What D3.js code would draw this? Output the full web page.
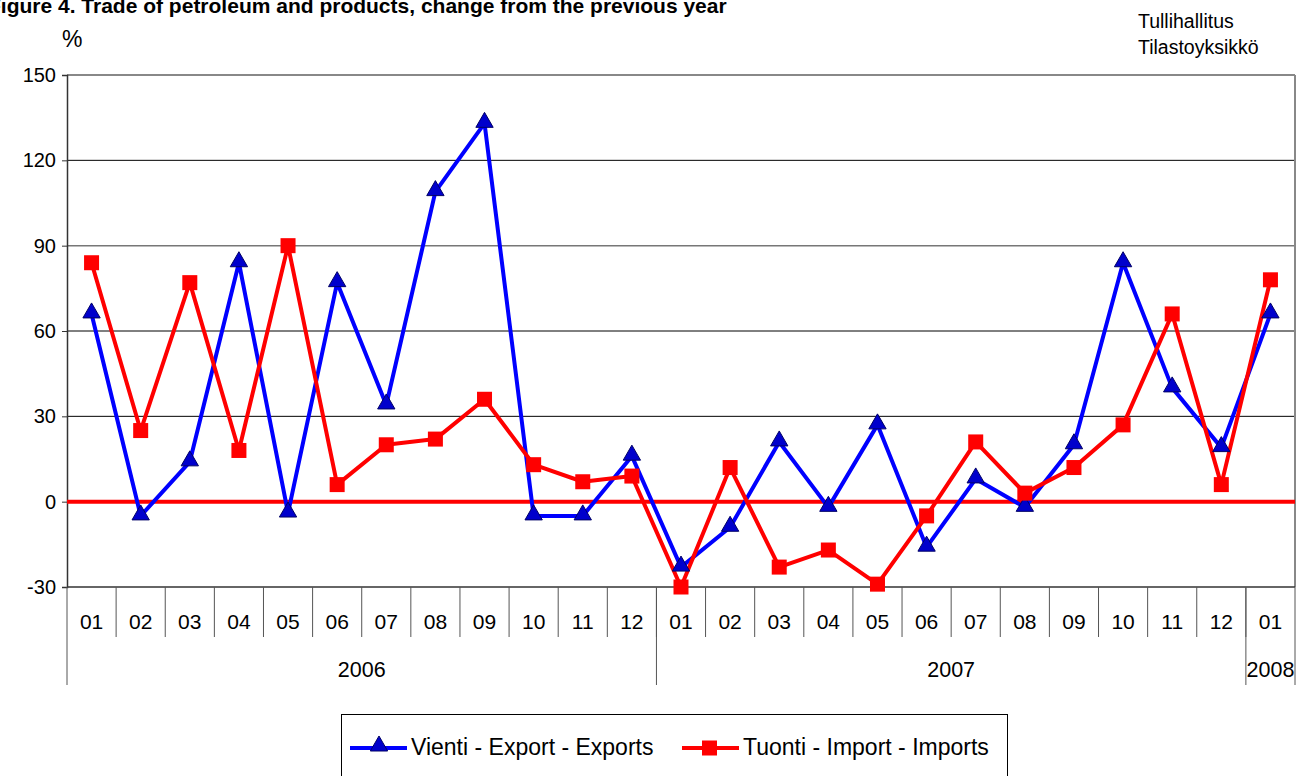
<!DOCTYPE html>
<html>
<head>
<meta charset="utf-8">
<script src="https://cdn.jsdelivr.net/npm/d3@7"></script>
<style>
  body { margin: 0; background: #fff; }
  svg { display: block; font-family: "Liberation Sans", Arial, sans-serif; }
</style>
</head>
<body>
<div id="chart"></div>
<script>
// Datos
const months = ["01","02","03","04","05","06","07","08","09","10","11","12",
                "01","02","03","04","05","06","07","08","09","10","11","12","01"];
const years = [
  { label: "2006", start: 0, end: 12 },
  { label: "2007", start: 12, end: 24 },
  { label: "2008", start: 24, end: 25 }
];
const exportsValues = [66, -5, 14, 84, -4, 77, 34, 109, 133, -5, -5, 16,
                       -23, -9, 21, -2, 27, -16, 8, -2, 20, 84, 40, 19, 66];
const importsValues = [84, 25, 77, 18, 90, 6, 20, 22, 36, 13, 7, 9,
                       -30, 12, -23, -17, -29, -5, 21, 3, 12, 27, 66, 6, 78];
const yTicks = [-30, 0, 30, 60, 90, 120, 150];
const seriesNames = ["Vienti - Export - Exports", "Tuonti - Import - Imports"];

const width = 1297, height = 776;
const plotLeft = 67, plotRight = 1295, plotTop = 75, plotBottom = 587;

const svg = d3.select("#chart").append("svg")
  .attr("width", width).attr("height", height);

// Escalas
const x = d3.scaleBand().domain(d3.range(months.length)).range([plotLeft, plotRight]);
const y = d3.scaleLinear().domain([-30, 150]).range([plotBottom, plotTop]);
const cx = i => x(i) + x.bandwidth() / 2;
const edge = i => i >= months.length ? plotRight : x(i);

// Título (cortado a la izquierda como en el original)
svg.append("text")
  .attr("x", -12).attr("y", 13)
  .attr("font-size", 21).attr("font-weight", "bold")
  .text("Figure 4. Trade of petroleum and products, change from the previous year");

svg.append("text").attr("x", 62).attr("y", 47).attr("font-size", 23).text("%");

svg.append("text").attr("x", 1138).attr("y", 28).attr("font-size", 19.5).text("Tullihallitus");
svg.append("text").attr("x", 1138).attr("y", 54).attr("font-size", 19.5).text("Tilastoyksikkö");

// Líneas de cuadrícula
svg.append("g")
  .selectAll("line")
  .data(yTicks.filter(d => d > -30 && d < 150))
  .join("line")
  .attr("x1", plotLeft).attr("x2", plotRight)
  .attr("y1", d => y(d)).attr("y2", d => y(d))
  .attr("stroke", d => d === 90 ? "#777" : "#000")
  .attr("stroke-width", d => d === 90 ? 1.5 : 1);

// Borde del área
svg.append("line").attr("x1", plotLeft).attr("x2", plotRight).attr("y1", plotTop).attr("y2", plotTop)
  .attr("stroke", "#888").attr("stroke-width", 2);
svg.append("line").attr("x1", plotRight).attr("x2", plotRight).attr("y1", plotTop).attr("y2", plotBottom)
  .attr("stroke", "#888").attr("stroke-width", 2);

// Eje Y
const yAxis = svg.append("g")
  .attr("transform", `translate(${plotLeft},0)`)
  .call(d3.axisLeft(y).tickValues(yTicks).tickSize(5).tickPadding(6).tickFormat(d => String(d)));
yAxis.select(".domain").attr("stroke", "#333").attr("stroke-width", 1.5);
yAxis.selectAll(".tick line").attr("stroke", "#333");
yAxis.selectAll("text").attr("font-size", 20).attr("fill", "#000")
  .attr("font-family", "Liberation Sans, Arial, sans-serif");

// Eje X de categorías
const xg = svg.append("g");
xg.append("line").attr("x1", plotLeft).attr("x2", plotRight).attr("y1", plotBottom).attr("y2", plotBottom)
  .attr("stroke", "#333").attr("stroke-width", 1.5);
xg.selectAll(".mtick")
  .data(d3.range(1, months.length))
  .join("line")
  .attr("x1", i => x(i)).attr("x2", i => x(i))
  .attr("y1", plotBottom).attr("y2", 637)
  .attr("stroke", "#555");
xg.selectAll(".mlabel")
  .data(months)
  .join("text")
  .attr("x", (d, i) => cx(i)).attr("y", 629)
  .attr("text-anchor", "middle").attr("font-size", 21)
  .text(d => d);
xg.selectAll(".ysep")
  .data([0, 12, 24, 25])
  .join("line")
  .attr("x1", edge).attr("x2", edge)
  .attr("y1", plotBottom).attr("y2", 685)
  .attr("stroke", "#555");
xg.selectAll(".ylabel")
  .data(years)
  .join("text")
  .attr("x", d => (edge(d.start) + edge(d.end)) / 2)
  .attr("y", 677)
  .attr("text-anchor", "middle").attr("font-size", 21.5)
  .text(d => d.label);

// Línea cero
svg.append("line").attr("x1", plotLeft).attr("x2", plotRight)
  .attr("y1", y(0)).attr("y2", y(0))
  .attr("stroke", "#ff0000").attr("stroke-width", 4);

const line = d3.line().x((d, i) => cx(i)).y(d => y(d));
const triangle = d3.symbol().type(d3.symbolTriangle).size(130);

// Serie de exportaciones
svg.append("path").datum(exportsValues)
  .attr("d", line).attr("fill", "none")
  .attr("stroke", "#0000ff").attr("stroke-width", 4).attr("stroke-linejoin", "round");

// Serie de importaciones
svg.append("path").datum(importsValues)
  .attr("d", line).attr("fill", "none")
  .attr("stroke", "#ff0000").attr("stroke-width", 4).attr("stroke-linejoin", "round");

svg.append("g").selectAll("path")
  .data(exportsValues)
  .join("path")
  .attr("d", triangle)
  .attr("transform", (d, i) => `translate(${cx(i)},${y(d) - 1})`)
  .attr("fill", "#0000cc").attr("stroke", "#000066").attr("stroke-width", 1);

svg.append("g").selectAll("rect")
  .data(importsValues)
  .join("rect")
  .attr("x", (d, i) => cx(i) - 7.5).attr("y", d => y(d) - 7.5)
  .attr("width", 15).attr("height", 15)
  .attr("fill", "#ff0000");

// Leyenda
const lg = svg.append("g");
lg.append("rect").attr("x", 341.5).attr("y", 714.5).attr("width", 666).attr("height", 70)
  .attr("fill", "#fff").attr("stroke", "#000").attr("stroke-width", 1);
const lx = [350, 682];
seriesNames.forEach((name, k) => {
  const g = lg.append("g");
  g.append("line").attr("x1", lx[k]).attr("x2", lx[k] + 57)
    .attr("y1", 748).attr("y2", 748)
    .attr("stroke", k === 0 ? "#0000ff" : "#ff0000").attr("stroke-width", 4);
  if (k === 0) {
    g.append("path").attr("d", triangle)
      .attr("transform", `translate(${lx[k] + 29},746)`)
      .attr("fill", "#0000cc").attr("stroke", "#000066");
  } else {
    g.append("rect").attr("x", lx[k] + 20).attr("y", 740.5).attr("width", 15).attr("height", 15)
      .attr("fill", "#ff0000");
  }
  g.append("text").attr("x", lx[k] + 61).attr("y", 755).attr("font-size", 23).text(name);
});
</script>
</body>
</html>
